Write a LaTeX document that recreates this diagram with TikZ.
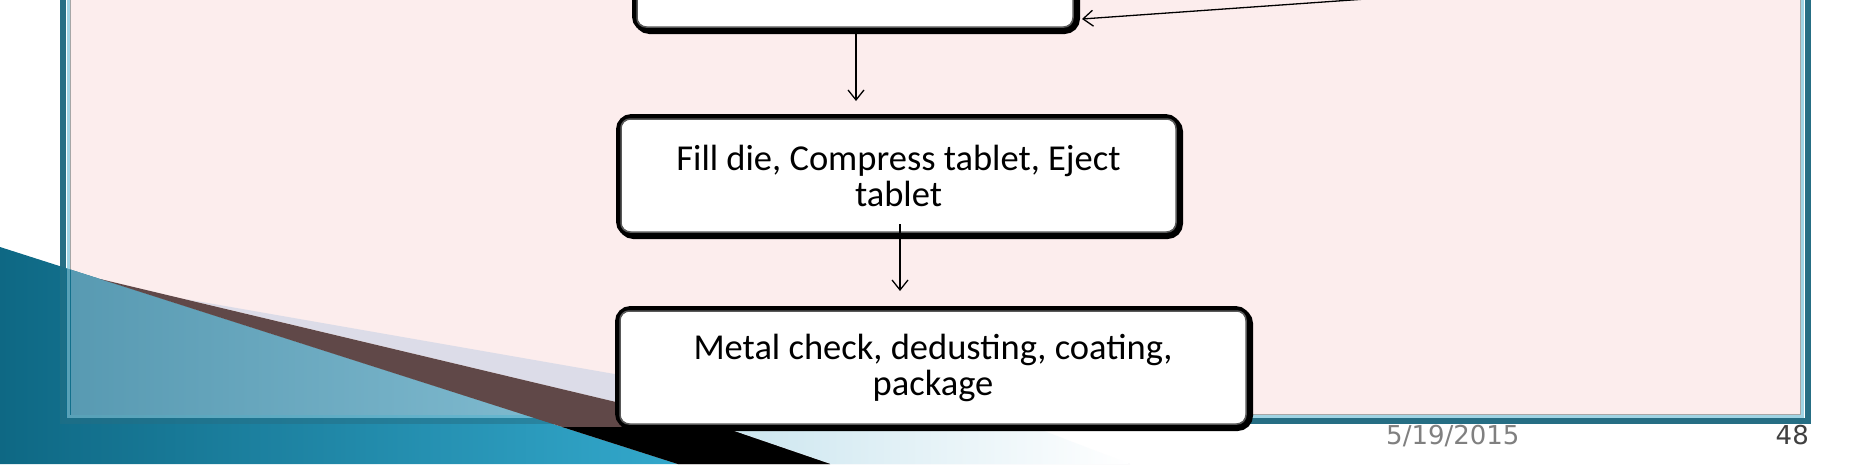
\documentclass[tikz,border=0pt]{standalone}
\usepackage{fontspec}
\setmainfont{Carlito}
\newfontfamily\footfont{DejaVu Sans}
\usetikzlibrary{arrows.meta,shadows}
\definecolor{pinkbg}{RGB}{252,237,237}
\definecolor{framedark}{RGB}{38,110,132}
\definecolor{framelight}{RGB}{160,212,228}
\definecolor{tealA}{RGB}{14,104,132}
\definecolor{tealB}{RGB}{52,170,206}
\definecolor{tealInA}{RGB}{88,154,178}
\definecolor{tealInB}{RGB}{140,196,216}
\definecolor{brownband}{RGB}{96,72,72}
\definecolor{lavender}{RGB}{220,220,232}
\definecolor{lightblue}{RGB}{200,228,238}
\tikzset{
  flowbox/.style={draw=black, line width=5pt, rounded corners=13pt, fill=white,
    align=center, inner sep=0pt, font=\fontsize{36.5}{36}\selectfont,
    drop shadow={shadow xshift=2pt, shadow yshift=-2pt, opacity=1, fill=black, draw=black, line width=5pt}},
  innerline/.style={draw=gray!70!black, line width=1.5pt, rounded corners=9pt},
  arr/.style={draw=black, line width=1.3pt, -{Straight Barb[length=10pt,width=16pt,line width=1.3pt]}},
  foot/.style={font=\footfont\fontsize{26}{26}\selectfont, inner sep=0pt}
}
\begin{document}
\begin{tikzpicture}[x=1pt,y=-1pt]
\useasboundingbox (0,0) rectangle (1858,464);
\clip (0,0) rectangle (1858,464);
\fill[white] (0,0) rectangle (1858,464);
% panel
\fill[pinkbg] (71,-20) rectangle (1800,414);
\draw[framedark, line width=6pt] (63,-20) -- (63,421) -- (1808,421) -- (1808,-20);
\draw[framelight, line width=3pt] (68.5,-20) -- (68.5,416.5) -- (1802.5,416.5) -- (1802.5,-20);
\draw[gray!70, line width=0.8pt] (70.6,-20) -- (70.6,414.4) -- (1800.4,414.4) -- (1800.4,-20);
% teal decoration
\begin{scope}
  \clip (0,247) -- (678,464) -- (0,464) -- cycle;
  \shade[left color=tealA, right color=tealB] (0,240) rectangle (700,464);
  \shade[left color=tealInA, right color=tealInB] (71,240) rectangle (700,414);
  \draw[framedark, line width=6pt, opacity=0.5] (63,-20) -- (63,421) -- (1808,421);
  \draw[framelight, line width=3pt, opacity=0.5] (68.5,-20) -- (68.5,416.5) -- (1802.5,416.5);
\end{scope}
% lavender / light blue wedge
\fill[lavender] (185,299) -- (1130,464) -- (830,464) -- (725,428) -- cycle;
\begin{scope}
  \clip (0,424) rectangle (1858,464);
  \shade[left color=lightblue, right color=white] (700,299) -- (1130,464) -- (830,464) -- (725,428) -- (700,420) -- cycle;
\end{scope}
% brown / black band
\fill[brownband] (100,279) -- (725,428) -- (830,464) -- (678,464) -- cycle;
\begin{scope}
  \clip (0,427) rectangle (1858,464);
  \fill[black] (100,279) -- (725,428) -- (830,464) -- (678,464) -- cycle;
\end{scope}
% footer
\node[foot, anchor=base west, text=gray] (date) at (1386,444) {5/19/2015};
\node[foot, anchor=base east, text=black!75] (num) at (1809,444) {48};
% boxes
\node[flowbox, minimum width=441pt, minimum height=118pt] (b1) at (855,-29.5) {};
\draw[innerline] ([shift={(5,5)}]b1.north west) rectangle ([shift={(-5,-5)}]b1.south east);
\node[flowbox, minimum width=560pt, minimum height=118pt] (b2) at (898.5,175.5) {Fill die, Compress tablet, Eject\\tablet};
\draw[innerline] ([shift={(5,5)}]b2.north west) rectangle ([shift={(-5,-5)}]b2.south east);
\node[flowbox, minimum width=631pt, minimum height=118pt] (b3) at (933,367.5) {Metal check, dedusting, coating,\\package};
\draw[innerline] ([shift={(5,5)}]b3.north west) rectangle ([shift={(-5,-5)}]b3.south east);
% connectors
\coordinate (src) at (1420,-4.8);
\draw[arr] (src) -- ([xshift=4pt,yshift=13pt]b1.south east);
\draw[arr, shorten >=13pt] ([xshift=1pt]b1.south) -- ([xshift=1pt]b1.south |- b2.north);
\draw[arr, shorten >=15pt] ([xshift=1.5pt,yshift=13pt]b2.south) -- ([xshift=1.5pt]b2.south |- b3.north);
\end{tikzpicture}
\end{document}
